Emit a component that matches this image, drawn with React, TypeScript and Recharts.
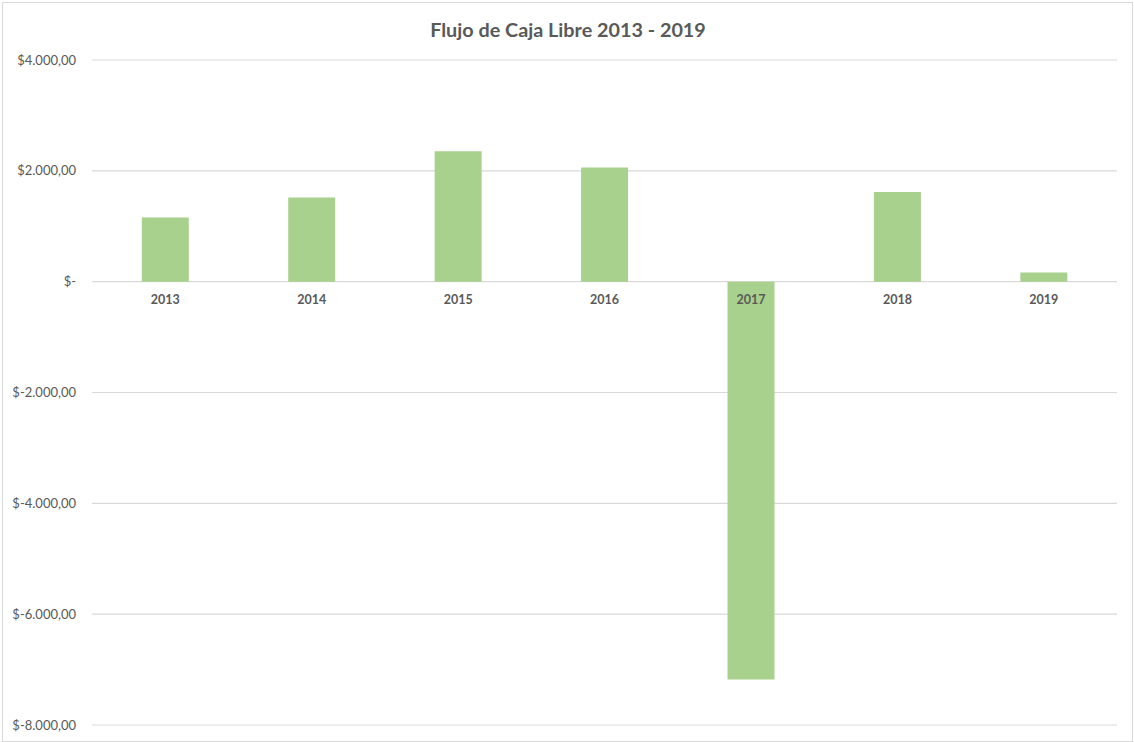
import React from "react";
import { BarChart, Bar, XAxis, YAxis, CartesianGrid, LabelList } from "recharts";

// Free cash flow per year
const years = ["2013", "2014", "2015", "2016", "2017", "2018", "2019"];
const cashFlow = [1160, 1520, 2355, 2060, -7180, 1620, 165];
const yTicks = [-8000, -6000, -4000, -2000, 0, 2000, 4000];

const data = years.map((year, i) => ({ year, value: cashFlow[i] }));

const TEXT = "#595959";
const GRID = "#d9d9d9";
const BAR = "#a9d18e";
const FONT = "Lato, 'Open Sans', sans-serif";

const formatMoney = (v: number) => {
  if (v === 0) return "$-";
  const sign = v < 0 ? "-" : "";
  const abs = Math.abs(v);
  const int = Math.floor(abs)
    .toString()
    .replace(/\B(?=(\d{3})+(?!\d))/g, ".");
  return `$${sign}${int},00`;
};

// Category labels sit on the zero line rather than at the bottom of the plot
const YearLabel = (props: any) => {
  const { x, y, width, height, index } = props;
  const v = data[index].value;
  const y0 = Math.min(y, y + height);
  const y1 = Math.max(y, y + height);
  const zeroY = v >= 0 ? y1 : y0;
  return (
    <text
      x={x + width / 2}
      y={zeroY + 18}
      textAnchor="middle"
      dominantBaseline="central"
      fill={TEXT}
      fontFamily={FONT}
      fontWeight={700}
      fontSize={12.5}
    >
      {data[index].year}
    </text>
  );
};

export default function App() {
  return (
    <div
      style={{
        position: "absolute",
        left: 0,
        top: 0,
        width: 1134,
        height: 742,
        background: "#ffffff",
      }}
    >
      <div
        style={{
          position: "absolute",
          left: 2,
          top: 2,
          width: 1129,
          height: 738,
          border: `1px solid ${GRID}`,
        }}
      />
      <div
        style={{
          position: "absolute",
          left: 1,
          top: 17,
          width: 1134,
          textAlign: "center",
          fontFamily: FONT,
          fontWeight: 700,
          fontSize: 19.8,
          color: TEXT,
        }}
      >
        Flujo de Caja Libre 2013 - 2019
      </div>
      <div style={{ position: "absolute", left: 0, top: 0 }}>
        <BarChart
          width={1134}
          height={742}
          data={data}
          margin={{ top: 60, right: 17, bottom: 17, left: 0 }}
          barCategoryGap="34%"
        >
          <CartesianGrid vertical={false} stroke={GRID} strokeWidth={1.2} />
          <XAxis dataKey="year" hide />
          <YAxis
            domain={[-8000, 4000]}
            ticks={yTicks}
            width={92}
            axisLine={false}
            tickLine={false}
            tickSize={0}
            tickMargin={16}
            tickFormatter={formatMoney}
            tick={{ fill: TEXT, fontFamily: FONT, fontSize: 13 }}
          />
          <Bar dataKey="value" fill={BAR} isAnimationActive={false}>
            <LabelList dataKey="year" content={<YearLabel />} />
          </Bar>
        </BarChart>
      </div>
    </div>
  );
}
